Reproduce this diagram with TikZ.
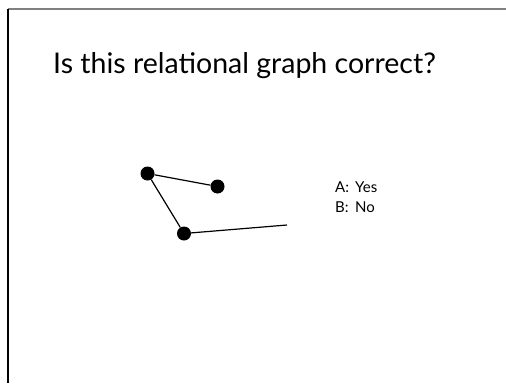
\documentclass[tikz,border=0pt]{standalone}
\usepackage{fontspec}
\setmainfont{Lato}

\begin{document}
\begin{tikzpicture}[x=1pt, y=-1pt,
    dot/.style={circle, fill=black, inner sep=0pt, minimum size=14pt},
    title/.style={anchor=base west, inner sep=0pt, font=\fontsize{28.5}{32}\selectfont},
    answers/.style={anchor=base west, inner sep=0pt, font=\fontsize{15}{20}\selectfont},
    line/.style={draw, line width=1.2pt}]

    \useasboundingbox (0,0) rectangle (506,383);
    % slide frame
    \draw [gray, line width=2pt] (8,9) -- (506,9);
    \draw [black, line width=1.5pt] (8,9) -- (8,383);

    \node [title] (question) at (53,73) {Is this relational graph correct?};

    \node [dot] (top) at (147.5,173.5) {};
    \node [dot] (right) at (217.5,186.5) {};
    \node [dot] (bottom) at (184,233.5) {};
    \coordinate (loose) at (287,225);

    \path [line] (top) -- (right);
    \path [line] (top) -- (bottom);
    \path [line] (bottom) -- (loose);

    \node [answers] (choices) at (335,192) {%
        \begin{tabular}[t]{@{}l@{\hspace{6pt}}l@{}}
        A: & Yes\\
        B: & No
        \end{tabular}};
\end{tikzpicture}
\end{document}
